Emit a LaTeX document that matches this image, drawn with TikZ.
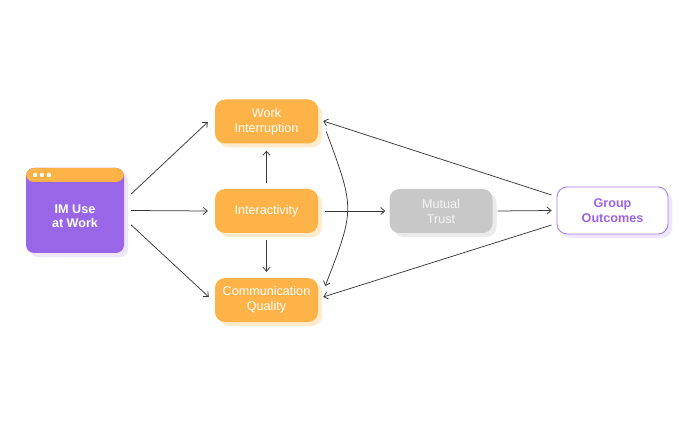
\documentclass[tikz,border=0pt]{standalone}
\usepackage{fontspec}
\setmainfont{Liberation Sans}
\usetikzlibrary{arrows.meta,shadows}
\definecolor{orng}{HTML}{FDB347}
\definecolor{orngsh}{HTML}{FEEBCC}
\definecolor{purp}{HTML}{9A66E8}
\definecolor{purpsh}{HTML}{EEE7FB}
\definecolor{purptx}{HTML}{9B63E6}
\definecolor{purpln}{HTML}{A980F0}
\definecolor{gry}{HTML}{C8C8C8}
\definecolor{grysh}{HTML}{EBEBEB}
\definecolor{grytx}{HTML}{F4F4F4}
\definecolor{lin}{HTML}{3A3A3A}
\tikzset{
  box/.style={rounded corners=10pt, minimum width=103pt, minimum height=44pt,
    align=center, font=\fontsize{12.6}{15}\selectfont, inner sep=0pt},
  twol/.style={execute at begin node={\rule{0pt}{12.5pt}}},
  obox/.style={box, fill=orng, text=white,
    drop shadow={shadow xshift=4pt, shadow yshift=-4pt, fill=orngsh, opacity=1}},
  gbox/.style={box, fill=gry, text=grytx,
    drop shadow={shadow xshift=4pt, shadow yshift=-4pt, fill=grysh, opacity=1}},
  pbox/.style={box, fill=white, draw=purpln, line width=0.9pt, text=purptx,
    minimum width=111pt, minimum height=47pt, font=\fontsize{12.6}{15}\selectfont\bfseries,
    drop shadow={shadow xshift=4pt, shadow yshift=-4pt, fill=purpsh, opacity=1}},
  imbox/.style={rounded corners=8pt, minimum width=98pt, minimum height=85pt, fill=purp,
    inner sep=0pt,
    drop shadow={shadow xshift=4pt, shadow yshift=-4pt, fill=purpsh, opacity=1},
    path picture={
      \fill[orng] (path picture bounding box.north west) rectangle
        ([yshift=-14pt]path picture bounding box.north east);
      \foreach \dx in {9,16,23}
        \fill[white] ([xshift=\dx pt, yshift=-7pt]path picture bounding box.north west) circle (2.2pt);
    }},
  imtext/.style={text=white, align=center, font=\fontsize{12.6}{14}\selectfont\bfseries},
  arr/.style={draw=lin, line width=0.75pt, -{Straight Barb[length=4pt,width=7pt]}},
}
\begin{document}
\begin{tikzpicture}[x=1pt,y=-1pt]
\useasboundingbox[fill=white] (0,0) rectangle (700,427);
\node[imbox] (im) at (75,210.5) {};
\node[imtext] (imt) at ([yshift=-6pt]im.center) {IM Use\\at Work};
\node[obox,twol] (wi) at (266.5,121.5) {Work\\Interruption};
\node[obox] (int) at (266.5,211) {Interactivity};
\node[obox,twol] (cq) at (266.5,300) {Communication\\Quality};
\node[gbox,twol] (mt) at (441,211) {Mutual\\Trust};
\node[pbox,twol] (go) at (612.5,210.5) {Group\\Outcomes};

\draw[arr] ([xshift=7pt,yshift=16.5pt]im.east) -- ([xshift=-7pt,yshift=-0.5pt]wi.west);
\draw[arr] ([xshift=7pt]im.east) -- ([xshift=-7pt]int.west);
\draw[arr] ([xshift=7pt,yshift=-14.5pt]im.east) -- ([xshift=-6pt,yshift=3pt]cq.west);
\draw[arr] ([yshift=6pt]int.north) -- ([yshift=-7pt]wi.south);
\draw[arr] ([yshift=-7pt]int.south) -- ([yshift=6pt]cq.north);
\draw[arr] ([xshift=7pt]int.east) -- ([xshift=-4pt]mt.west);
\draw[arr] ([xshift=5pt]mt.east) -- ([xshift=-5pt]go.west);
\draw[arr] ([xshift=-5pt,yshift=15.5pt]go.west) -- ([xshift=5pt,yshift=0.5pt]wi.east);
\draw[arr] ([xshift=-5pt,yshift=-14.5pt]go.west) -- ([xshift=5pt,yshift=3pt]cq.east);
\coordinate (cs) at ([xshift=8pt,yshift=-10pt]wi.east);
\coordinate (ce) at ([xshift=7pt,yshift=14pt]cq.east);
\draw[arr] (cs) .. controls (355,209) .. (ce);
\end{tikzpicture}
\end{document}
